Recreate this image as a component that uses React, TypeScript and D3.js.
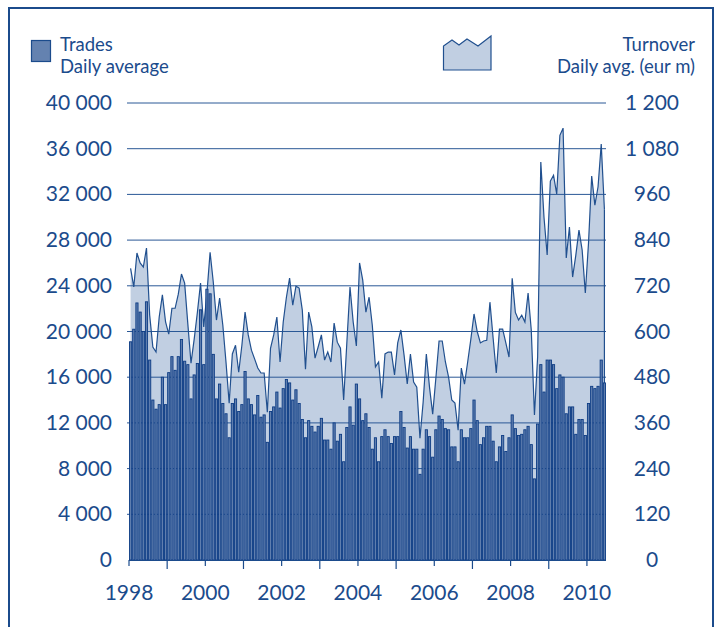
import React, { useEffect, useRef } from "react";
import * as d3 from "d3";

// monthly values, Jan 1998 .. Jun 2010
const startYear = 1998;

const trades = [
  19100, 20200, 22500, 21700, 20000, 22600, 17500, 14000, 13200, 13600, 16000, 13600,
  16400, 17800, 16600, 17800, 19300, 17400, 17100, 14100, 16200, 17200, 21900, 17100,
  23700, 23300, 18000, 14100, 15400, 13700, 12800, 10700, 13700, 14100, 13000, 13600,
  16500, 14100, 13600, 12700, 14400, 12500, 12700, 10300, 13000, 13400, 14700, 13300,
  15000, 15800, 15500, 14000, 14900, 13700, 12300, 10700, 12200, 11700, 11200, 11700,
  12400, 10500, 10500, 9700, 12000, 10400, 11000, 8600, 11600, 13400, 11800, 15400,
  14100, 12200, 12800, 11600, 9700, 10700, 8600, 10800, 11400, 10800, 10200, 10800,
  10800, 13000, 11600, 9800, 10800, 9700, 9700, 7500, 9700, 11400, 10800, 9000,
  11400, 12600, 12300, 11500, 11400, 9900, 9900, 8600, 11400, 10700, 10700, 11500,
  14000, 12200, 10100, 10700, 11700, 11700, 10400, 8600, 9900, 10900, 9500, 10700,
  12700, 11500, 10900, 11000, 11400, 11700, 10100, 7100, 11900, 17100, 14700, 17500,
  17500, 17100, 15000, 16200, 16000, 12800, 13400, 13400, 11000, 12300, 12300, 10900,
  13700, 15200, 15000, 15200, 17500, 15500,
];

const turnover = [
  766, 717, 806, 780, 769, 819, 643, 559, 546, 638, 696, 625,
  593, 661, 661, 698, 751, 727, 620, 517, 580, 650, 727, 612,
  700, 808, 730, 630, 688, 617, 520, 412, 541, 564, 493, 564,
  651, 591, 551, 528, 504, 491, 491, 388, 556, 591, 638, 520,
  625, 690, 740, 669, 719, 714, 656, 501, 651, 612, 530, 560,
  591, 525, 546, 520, 622, 572, 556, 420, 570, 717, 625, 562,
  780, 735, 651, 690, 617, 507, 520, 425, 541, 546, 546, 486,
  570, 604, 538, 462, 541, 467, 454, 320, 415, 541, 454, 383,
  478, 575, 575, 520, 480, 420, 412, 341, 504, 462, 520, 580,
  646, 600, 570, 575, 577, 677, 583, 491, 606, 606, 570, 533,
  740, 650, 630, 643, 625, 701, 604, 381, 533, 1045, 900, 801,
  995, 1010, 961, 1115, 1134, 793, 874, 743, 800, 866, 814, 701,
  832, 1008, 932, 980, 1092, 921,
];

const leftTicks = [0, 4000, 8000, 12000, 16000, 20000, 24000, 28000, 32000, 36000, 40000];
const rightTicks = [0, 120, 240, 360, 480, 600, 720, 840, 960, 1080, 1200];
const yearLabels = [1998, 2000, 2002, 2004, 2006, 2008, 2010];
const years = [1998, 1999, 2000, 2001, 2002, 2003, 2004, 2005, 2006, 2007, 2008, 2009, 2010];

const dark = "#1b4b8c";
const font = "Lato, 'Open Sans', sans-serif";

const fmt = (v) => d3.format(",")(v).replace(/,/g, " ");

const App = () => {
  const svgRef = useRef(null);

  useEffect(() => {
    const svg = d3.select(svgRef.current);
    svg.selectAll("*").remove();

    const months = d3.range(trades.length);
    const x = d3.scaleBand().domain(months).range([129, 606]);
    const yL = d3.scaleLinear().domain([0, 40000]).range([560, 103]);
    const yR = d3.scaleLinear().domain([0, 1200]).range([560, 103]);
    const bw = x.bandwidth();

    // frame
    svg
      .append("rect")
      .attr("x", 9)
      .attr("y", 8)
      .attr("width", 704)
      .attr("height", 660)
      .attr("fill", "white")
      .attr("stroke", dark)
      .attr("stroke-width", 2);

    // turnover area
    const area = d3
      .area()
      .x((d, i) => x(i) + bw / 2)
      .y0(yR(0))
      .y1((d) => yR(d));
    const line = d3
      .line()
      .x((d, i) => x(i) + bw / 2)
      .y((d) => yR(d));

    svg
      .append("path")
      .datum(turnover)
      .attr("d", area)
      .attr("fill", "#c1cfe2");

    // grid
    svg
      .append("g")
      .selectAll("line")
      .data(leftTicks.slice(1))
      .join("line")
      .attr("x1", 127)
      .attr("x2", 606)
      .attr("y1", (d) => yL(d))
      .attr("y2", (d) => yL(d))
      .attr("stroke", "#2a5896")
      .attr("stroke-width", 1);

    svg
      .append("path")
      .datum(turnover)
      .attr("d", line)
      .attr("fill", "none")
      .attr("stroke", "#21508f")
      .attr("stroke-width", 1.2);

    // right edge of area
    svg
      .append("line")
      .attr("x1", x(turnover.length - 1) + bw / 2)
      .attr("x2", x(turnover.length - 1) + bw / 2)
      .attr("y1", yR(turnover[turnover.length - 1]))
      .attr("y2", yR(0))
      .attr("stroke", "#21508f")
      .attr("stroke-width", 1.2);

    // trades bars
    svg
      .append("g")
      .selectAll("rect")
      .data(trades)
      .join("rect")
      .attr("x", (d, i) => x(i) + 0.5)
      .attr("width", bw - 1)
      .attr("y", (d) => yL(d))
      .attr("height", (d) => yL(0) - yL(d))
      .attr("fill", "#5f7eae")
      .attr("stroke", "#0c3b84")
      .attr("stroke-width", 0.9);

    // x axis
    svg
      .append("line")
      .attr("x1", 129)
      .attr("x2", 606)
      .attr("y1", 560.5)
      .attr("y2", 560.5)
      .attr("stroke", dark)
      .attr("stroke-width", 1.2);

    svg
      .append("g")
      .selectAll("line")
      .data(years)
      .join("line")
      .attr("x1", (d) => x((d - startYear) * 12))
      .attr("x2", (d) => x((d - startYear) * 12))
      .attr("y1", 560)
      .attr("y2", (d) => (d % 2 === 0 ? 566 : 569))
      .attr("stroke", dark)
      .attr("stroke-width", 1.2);

    svg
      .append("g")
      .selectAll("text")
      .data(yearLabels)
      .join("text")
      .attr("x", (d) => x((d - startYear) * 12))
      .attr("y", 600)
      .attr("text-anchor", "middle")
      .attr("font-family", font)
      .attr("font-size", 21)
      .attr("fill", dark)
      .text((d) => d);

    // left axis labels
    svg
      .append("g")
      .selectAll("text")
      .data(leftTicks)
      .join("text")
      .attr("x", 112)
      .attr("y", (d) => yL(d) + 7)
      .attr("text-anchor", "end")
      .attr("font-family", font)
      .attr("font-size", 21)
      .attr("fill", dark)
      .text((d) => fmt(d));

    // right axis labels
    svg
      .append("g")
      .selectAll("text")
      .data(rightTicks)
      .join("text")
      .attr("x", 652)
      .attr("y", (d) => yR(d) + 7)
      .attr("text-anchor", "middle")
      .attr("font-family", font)
      .attr("font-size", 21)
      .attr("fill", dark)
      .text((d) => fmt(d));

    // legend
    svg
      .append("rect")
      .attr("x", 31.5)
      .attr("y", 40.5)
      .attr("width", 19)
      .attr("height", 21)
      .attr("fill", "#6482b0")
      .attr("stroke", dark)
      .attr("stroke-width", 1.2);

    const legText = (t, xx, yy, anchor) =>
      svg
        .append("text")
        .attr("x", xx)
        .attr("y", yy)
        .attr("text-anchor", anchor)
        .attr("font-family", font)
        .attr("font-size", 18.5)
        .attr("fill", dark)
        .text(t);

    legText("Trades", 60, 51, "start");
    legText("Daily average", 60, 73, "start");
    legText("Turnover", 695, 51, "end");
    legText("Daily avg. (eur m)", 695, 73, "end");

    svg
      .append("path")
      .attr("d", "M443.5,70 L443.5,46 L452,40 L459,45 L467,39 L478,46 L491,36 L491,70 Z")
      .attr("fill", "#c1cfe2")
      .attr("stroke", "#21508f")
      .attr("stroke-width", 1.2);
  }, []);

  return (
    <svg
      ref={svgRef}
      width={719}
      height={627}
      style={{ position: "absolute", left: 0, top: 0, background: "white" }}
    ></svg>
  );
};

export default App;
